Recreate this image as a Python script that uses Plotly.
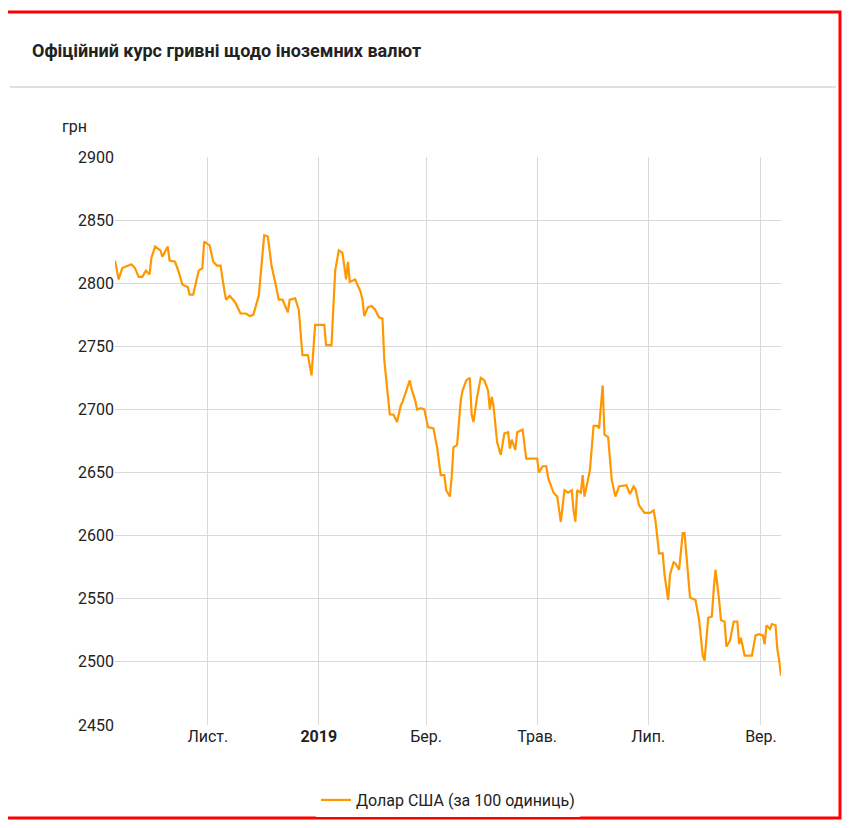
import pandas as pd
import plotly.graph_objects as go

start_date = "2018-09-11"
day_offsets = [0,2,4,7,9,11,13,15,17,19,20,22,25,26,29,30,33,35,37,40,41,43,45,46,48,49,52,54,56,58,60,61,63,66,69,72,74,76,79,81,82,84,86,88,90,92,95,96,99,101,103,106,108,110,115,116,119,121,123,125,127,128,129,132,135,136,137,139,141,143,145,147,148,151,153,155,157,158,160,162,163,165,166,168,170,172,175,177,179,181,182,184,185,186,188,190,191,193,195,196,197,199,201,203,205,206,207,208,210,212,214,216,217,218,220,221,224,226,228,232,233,235,237,238,241,243,245,247,249,251,252,253,254,256,257,258,261,263,265,266,268,269,271,273,275,277,281,283,285,286,288,291,294,296,297,299,301,302,304,305,307,308,310,312,313,315,316,319,321,323,324,326,328,329,330,332,333,335,336,338,340,342,343,344,345,346,350,352,354,356,357,358,360,361,363,364,365,366]
usd_rate = [2818,2803,2812,2814,2815,2812,2805,2805,2810,2807,2820,2829,2826,2821,2829,2818,2817,2809,2799,2797,2791,2791,2803,2810,2812,2833,2830,2817,2814,2814,2795,2787,2790,2785,2776,2776,2774,2775,2790,2826,2838,2837,2814,2801,2787,2787,2777,2787,2788,2779,2743,2743,2727,2767,2767,2751,2751,2810,2826,2824,2803,2817,2801,2803,2793,2787,2774,2781,2782,2779,2773,2772,2739,2696,2696,2690,2703,2706,2714,2723,2716,2707,2700,2701,2700,2686,2685,2670,2648,2648,2636,2631,2646,2670,2672,2707,2715,2723,2725,2696,2690,2710,2725,2723,2715,2700,2710,2703,2674,2664,2681,2682,2669,2676,2668,2682,2684,2661,2661,2661,2650,2655,2655,2646,2634,2631,2611,2636,2634,2636,2620,2611,2636,2634,2648,2631,2652,2687,2687,2685,2719,2680,2678,2644,2631,2639,2640,2633,2639,2637,2624,2618,2618,2620,2612,2586,2586,2569,2549,2569,2579,2578,2573,2602,2602,2565,2551,2549,2533,2505,2501,2535,2536,2557,2573,2549,2533,2532,2512,2517,2532,2532,2514,2519,2512,2505,2505,2521,2522,2521,2514,2529,2526,2530,2529,2510,2501,2489]
tick_dates = ["2018-11-01","2019-01-01","2019-03-01","2019-05-01","2019-07-01","2019-09-01"]
tick_labels = ["Лист.","<b>2019</b>","Бер.","Трав.","Лип.","Вер."]
y_ticks = [2450,2500,2550,2600,2650,2700,2750,2800,2850,2900]

dates = pd.to_datetime(start_date) + pd.to_timedelta(day_offsets, unit="D")

fig = go.Figure(go.Scatter(x=dates, y=usd_rate, mode="lines",
                           line=dict(color="#ff9800", width=2.2),
                           name="Долар США (за 100 одиниць)"))

def px(x): return (x-115)/666
def py(y): return (725-y)/568

fig.update_layout(
    width=851, height=828,
    margin=dict(l=107, r=78, t=149, b=111),
    paper_bgcolor="white", plot_bgcolor="white",
    font=dict(family="Roboto", size=16, color="#222"),
    showlegend=True,
    legend=dict(orientation="h", x=0.5, xanchor="center", y=py(800), yanchor="middle",
                font=dict(size=16)),
    xaxis=dict(range=["2018-09-11","2019-09-12"], tickvals=tick_dates, ticktext=tick_labels,
               showgrid=True, gridcolor="#d9d9d9", gridwidth=1, zeroline=False,
               showline=False, ticks="", tickfont=dict(size=16)),
    yaxis=dict(range=[2450,2900], tickvals=y_ticks, showgrid=True, gridcolor="#d9d9d9",
               zeroline=False, ticks="", tickfont=dict(size=16)),
    shapes=[
        dict(type="line", xref="paper", yref="paper", x0=px(10), x1=px(836), y0=py(87), y1=py(87),
             line=dict(color="#e0e0e0", width=2)),
        dict(type="rect", xref="paper", yref="paper", x0=px(4), x1=px(840), y0=py(818), y1=py(12),
             line=dict(color="red", width=3)),
    ],
    annotations=[
        dict(text="<b>Офіційний курс гривні щодо іноземних валют</b>", xref="paper", yref="paper",
             x=px(30), y=py(50), xanchor="left", yanchor="middle", showarrow=False,
             font=dict(size=18, color="#222", family="Roboto")),
        dict(text="грн", xref="paper", yref="paper", x=px(60), y=py(127),
             xanchor="left", yanchor="middle", showarrow=False, font=dict(size=16)),
    ],
)
fig.write_html("out.html")
